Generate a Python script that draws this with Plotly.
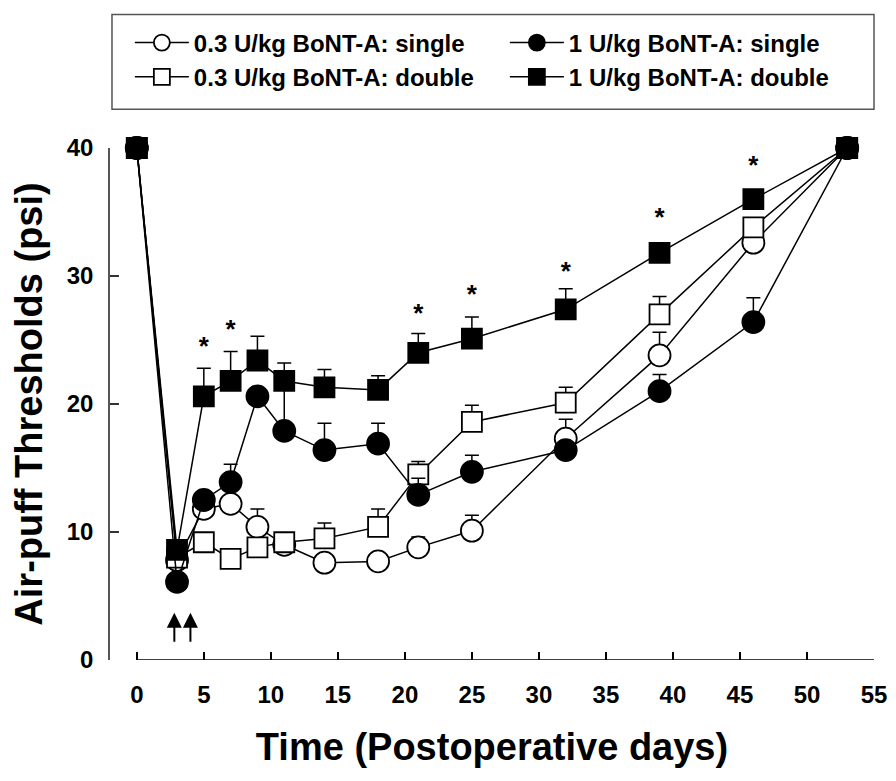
import plotly.graph_objects as go

days = [0, 3, 5, 7, 9, 11, 14, 18, 21, 25, 32, 39, 46, 53]

low_single = [40, 7.8, 11.8, 12.2, 10.4, 9.0, 7.6, 7.7, 8.8, 10.1, 17.3, 23.8, 32.6, 40]
low_single_err = [0, 0, 0, 0, 1.4, 0, 0, 0, 0.8, 1.2, 1.5, 1.8, 0, 0]

low_double = [40, 8.0, 9.2, 7.9, 8.8, 9.2, 9.5, 10.4, 14.5, 18.6, 20.1, 27.0, 33.8, 40]
low_double_err = [0, 0, 0, 0, 0, 0, 1.2, 1.4, 1.0, 1.3, 1.2, 1.4, 0, 0]

high_single = [40, 6.1, 12.5, 13.9, 20.6, 17.9, 16.4, 16.9, 12.9, 14.7, 16.4, 21.0, 26.4, 40]
high_single_err = [0, 0, 0, 1.4, 0, 3.5, 2.1, 1.6, 1.3, 1.3, 0, 1.3, 1.9, 0]

high_double = [40, 8.6, 20.6, 21.8, 23.4, 21.8, 21.3, 21.1, 24.0, 25.1, 27.4, 31.8, 36.0, 40]
high_double_err = [0, 0, 2.2, 2.3, 1.9, 1.4, 1.4, 1.1, 1.5, 1.7, 1.6, 0, 0, 0]

star_days = [5, 7, 21, 25, 32, 39, 46]
star_y = [24.3, 25.7, 26.9, 28.4, 30.2, 34.4, 38.5]

arrow_days = [2.8, 4.0]

x_ticks = [0, 5, 10, 15, 20, 25, 30, 35, 40, 45, 50, 55]
y_ticks = [0, 10, 20, 30, 40]

FONT = "Liberation Sans, Arial, sans-serif"

fig = go.Figure()

def add_series(name, y, err, symbol, fill, size, rank):
    fig.add_trace(go.Scatter(
        x=days, y=y, name=name, mode="lines+markers",
        line=dict(color="black", width=1.5),
        marker=dict(symbol=symbol, size=size, color=fill,
                    line=dict(color="black", width=1.8)),
        error_y=dict(type="data", symmetric=False, array=err,
                     arrayminus=[0] * len(err), color="black",
                     thickness=1.5, width=7),
        cliponaxis=False, legendrank=rank,
    ))

add_series("0.3 U/kg BoNT-A: single", low_single, low_single_err, "circle", "white", 22, 1)
add_series("0.3 U/kg BoNT-A: double", low_double, low_double_err, "square", "white", 20, 3)
add_series("1 U/kg BoNT-A: single", high_single, high_single_err, "circle", "black", 22, 2)
add_series("1 U/kg BoNT-A: double", high_double, high_double_err, "square", "black", 20, 4)

fig.add_trace(go.Scatter(
    x=star_days, y=star_y, mode="text", text=["*"] * len(star_days),
    textfont=dict(family=FONT, size=26, color="black", weight="bold"),
    showlegend=False, cliponaxis=False, hoverinfo="skip",
))

for d in arrow_days:
    fig.add_annotation(x=d, y=3.7, ax=d, ay=1.3, xref="x", yref="y",
                       axref="x", ayref="y", text="", showarrow=True,
                       arrowhead=2, arrowsize=1.5, arrowwidth=2,
                       arrowcolor="black")

fig.add_shape(type="line", xref="x", yref="y", x0=0, x1=55, y0=0, y1=0,
              line=dict(color="black", width=1.5))

# legend frame
fig.add_shape(type="rect", xref="paper", yref="paper",
              x0=0.0026, x1=1.0, y0=1.0759, y1=1.2607,
              line=dict(color="#555", width=1.5), fillcolor="rgba(0,0,0,0)")

fig.update_layout(
    width=888, height=773,
    margin=dict(l=102, r=22, t=138, b=121),
    paper_bgcolor="white", plot_bgcolor="white",
    font=dict(family=FONT, color="black"),
    showlegend=True,
    legend=dict(
        orientation="h", x=0.026, y=1.249, xanchor="left", yanchor="top",
        traceorder="normal", entrywidth=306, itemwidth=54,
        borderwidth=0, bgcolor="rgba(0,0,0,0)",
        font=dict(family=FONT, size=24, color="black", weight="bold"),
    ),
    xaxis=dict(
        range=[-2.0, 55], tickvals=x_ticks, ticks="inside", ticklen=8,
        tickwidth=1.5, tickcolor="black", showline=False, showgrid=False,
        zeroline=False, ticklabelstandoff=18, automargin=False,
        tickfont=dict(family=FONT, size=24, weight="bold"),
        title=dict(text="Time (Postoperative days)", standoff=26,
                   font=dict(family=FONT, size=38, weight="bold")),
    ),
    yaxis=dict(
        range=[0, 40], tickvals=y_ticks, ticks="inside", ticklen=9,
        tickwidth=1.5, tickcolor="#333", showline=True, linecolor="#555",
        linewidth=1.5, showgrid=False, zeroline=False, ticklabelstandoff=10,
        automargin=False,
        tickfont=dict(family=FONT, size=24, weight="bold"),
        title=dict(text="Air-puff Thresholds (psi)", standoff=18,
                   font=dict(family=FONT, size=38, weight="bold")),
    ),
)

fig.write_html("out.html")
